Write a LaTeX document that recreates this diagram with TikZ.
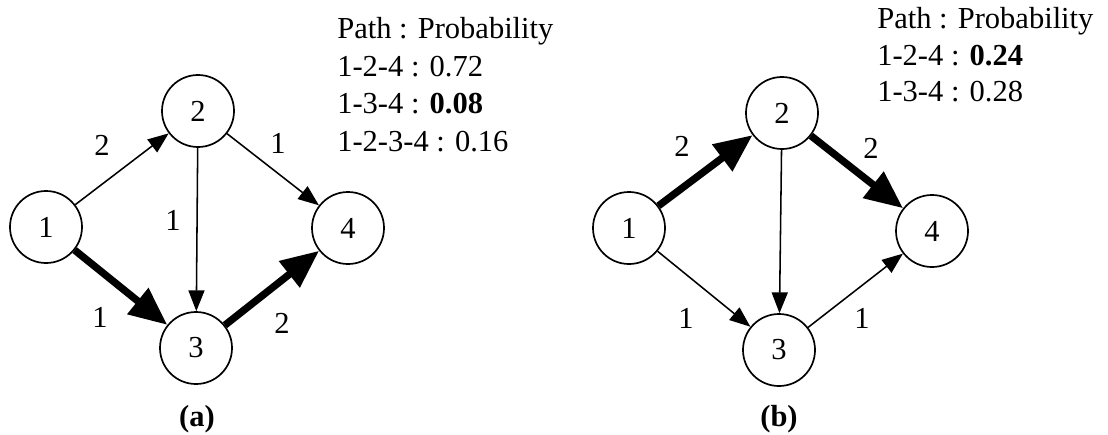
\documentclass[tikz,border=0pt]{standalone}
\usepackage{fontspec}
\setmainfont{Liberation Serif}
\usetikzlibrary{arrows.meta}

\tikzset{
  vertex/.style={circle, draw, line width=1.2pt, minimum size=1.8cm, inner sep=0pt,
    font=\fontsize{21.7}{26}\selectfont},
  wlabel/.style={inner sep=0pt, font=\fontsize{21.7}{26}\selectfont},
  ptext/.style={anchor=base west, inner sep=0pt, font=\fontsize{21.7}{26}\selectfont},
  caption/.style={anchor=base, inner sep=0pt, font=\fontsize{21.7}{26}\selectfont\bfseries},
  thinarc/.style={line width=1.1pt, -{Triangle[length=0.52cm, width=0.4cm]}},
  heavyarc/.style={line width=5.2pt, -{Triangle[length=0.95cm, width=0.8cm]}},
}

\begin{document}
\begin{tikzpicture}[x=0.025cm, y=-0.025cm]
  \useasboundingbox (0,0) rectangle (1108,434);

  % Graph (a)
  \node[vertex] (a1) at (46,227) {1};
  \node[vertex] (a2) at (198,111) {2};
  \node[vertex] (a3) at (196,348) {3};
  \node[vertex] (a4) at (348,228) {4};

  \draw[thinarc] (a1) -- (a2);
  \draw[thinarc] (a2) -- (a4);
  \draw[thinarc] (a2) -- (a3);
  \draw[heavyarc] (a1) -- (a3);
  \draw[heavyarc] (a3) -- (a4);

  \node[wlabel] (wa12) at (102,145) {2};
  \node[wlabel] (wa24) at (278,143) {1};
  \node[wlabel] (wa23) at (173,220) {1};
  \node[wlabel] (wa13) at (100,317) {1};
  \node[wlabel] (wa34) at (282,323) {2};

  \node[ptext] (pa0) at (337,38) {Path : Probability};
  \node[ptext] (pa1) at (337,76) {1-2-4 : 0.72};
  \node[ptext] (pa2) at (337,113.5) {1-3-4 : \textbf{0.08}};
  \node[ptext] (pa3) at (337,151.5) {1-2-3-4 : 0.16};

  \node[caption] (capa) at (197,426) {(a)};

  % Graph (b)
  \node[vertex] (b1) at (629,228) {1};
  \node[vertex] (b2) at (782,113) {2};
  \node[vertex] (b3) at (779,350) {3};
  \node[vertex] (b4) at (932,231) {4};

  \draw[heavyarc] (b1) -- (b2);
  \draw[heavyarc] (b2) -- (b4);
  \draw[thinarc] (b2) -- (b3);
  \draw[thinarc] (b1) -- (b3);
  \draw[thinarc] (b3) -- (b4);

  \node[wlabel] (wb12) at (682,146) {2};
  \node[wlabel] (wb24) at (871,148) {2};
  \node[wlabel] (wb13) at (686,318) {1};
  \node[wlabel] (wb34) at (862,318) {1};

  \node[ptext] (pb0) at (877,28.5) {Path : Probability};
  \node[ptext] (pb1) at (877,65) {1-2-4 : \textbf{0.24}};
  \node[ptext] (pb2) at (877,101.5) {1-3-4 : 0.28};

  \node[caption] (capb) at (779,426) {(b)};
\end{tikzpicture}
\end{document}
